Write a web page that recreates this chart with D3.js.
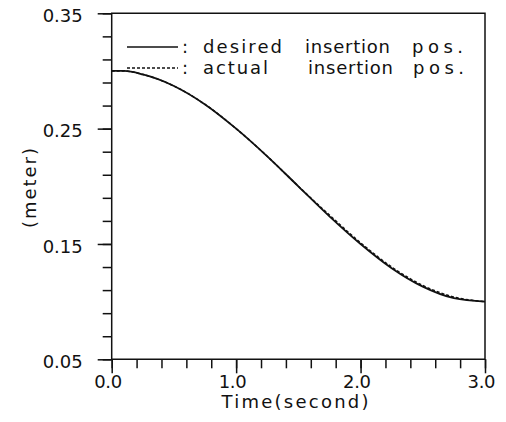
<!DOCTYPE html>
<html>
<head>
<meta charset="utf-8">
<script src="https://cdn.jsdelivr.net/npm/d3@7"></script>
<style>
  body { margin: 0; background: #fff; }
  svg { display: block; }
  text { font-family: "DejaVu Sans", Verdana, sans-serif; fill: #111; }
</style>
</head>
<body>
<svg id="chart" width="506" height="422"></svg>
<script>
// values
var timeValues  = [0, 0.1, 0.25, 0.5, 0.75, 1.0, 1.25, 1.5, 1.75, 2.0, 2.25, 2.5, 2.75, 3.0];
var desiredPos  = [0.300, 0.300, 0.297, 0.287, 0.271, 0.250, 0.226, 0.200, 0.174, 0.150, 0.129, 0.113, 0.103, 0.100];
var actualPos   = [0.300, 0.300, 0.297, 0.287, 0.271, 0.250, 0.226, 0.200, 0.175, 0.151, 0.130, 0.114, 0.104, 0.100];
var xTickLabels = ["0.0", "1.0", "2.0", "3.0"];
var yTickLabels = ["0.05", "0.15", "0.25", "0.35"];
var legendNames = ["desired", "actual"];

var svg = d3.select("#chart"),
    margin = {top: 13.3, right: 21, bottom: 62.7, left: 111.7},
    width = 506 - margin.left - margin.right,
    height = 422 - margin.top - margin.bottom,
    g = svg.append("g").attr("transform", "translate(" + margin.left + "," + margin.top + ")");

var x = d3.scaleLinear().domain([0, 3]).range([0, width]);
var y = d3.scaleLinear().domain([0.05, 0.35]).range([height, 0]);

var xMajor = xTickLabels.map(Number),
    yMajor = yTickLabels.map(Number),
    xMinor = d3.range(0, 3.001, 0.2),
    yMinor = d3.range(0.05, 0.351, 0.02);

function styleAxis(sel) {
  sel.select(".domain").remove();
  sel.selectAll("line").attr("stroke", "#111").attr("stroke-width", 1.5);
}

// minor ticks
g.append("g")
    .call(d3.axisLeft(y).tickValues(yMinor).tickSize(9).tickFormat(""))
    .call(styleAxis);
g.append("g")
    .attr("transform", "translate(0," + height + ")")
    .call(d3.axisBottom(x).tickValues(xMinor).tickSize(9).tickFormat(""))
    .call(styleAxis);

// major ticks + labels
var yAxis = g.append("g")
    .call(d3.axisLeft(y).tickValues(yMajor).tickSize(14).tickPadding(15)
      .tickFormat(function(d, i) { return yTickLabels[i]; }))
    .call(styleAxis);
yAxis.selectAll("text")
    .attr("font-size", 18)
    .attr("dy", "0.45em")
    .attr("textLength", 40)
    .attr("lengthAdjust", "spacing");

var xAxis = g.append("g")
    .attr("transform", "translate(0," + height + ")")
    .call(d3.axisBottom(x).tickValues(xMajor).tickSize(14)
      .tickFormat(function(d, i) { return xTickLabels[i]; }))
    .call(styleAxis);
xAxis.selectAll("text")
    .attr("font-size", 18)
    .attr("y", 29)
    .attr("dy", 0)
    .attr("x", -4)
    .attr("textLength", 28)
    .attr("lengthAdjust", "spacing");

// frame
g.append("path")
    .attr("d", "M" + x(0) + "," + y(0.05) + "V" + y(0.35) + "H" + x(3) + "V" + y(0.05) + "H" + x(0))
    .attr("fill", "none")
    .attr("stroke", "#111")
    .attr("stroke-width", 1.5);

// curves
var line = d3.line()
    .x(function(d) { return x(d[0]); })
    .y(function(d) { return y(d[1]); })
    .curve(d3.curveMonotoneX);

g.append("path")
    .datum(d3.zip(timeValues, desiredPos))
    .attr("d", line)
    .attr("fill", "none")
    .attr("stroke", "#111")
    .attr("stroke-width", 1.8);

g.append("path")
    .datum(d3.zip(timeValues, actualPos))
    .attr("d", line)
    .attr("fill", "none")
    .attr("stroke", "#111")
    .attr("stroke-width", 1.5)
    .attr("stroke-dasharray", "3,2");

// axis titles
svg.append("text")
    .attr("x", 295)
    .attr("y", 408)
    .attr("text-anchor", "middle")
    .attr("font-size", 18)
    .attr("textLength", 147)
    .attr("lengthAdjust", "spacing")
    .text("Time(second)");

svg.append("text")
    .attr("transform", "translate(36,188) rotate(-90)")
    .attr("text-anchor", "middle")
    .attr("font-size", 18)
    .attr("textLength", 80)
    .attr("lengthAdjust", "spacing")
    .text("(meter)");

// legend
var legend = svg.append("g");
legendNames.forEach(function(name, i) {
  var row = legend.append("g").attr("transform", "translate(0," + (i * 21) + ")");
  row.append("line")
      .attr("x1", 127).attr("x2", 178)
      .attr("y1", 47).attr("y2", 47)
      .attr("stroke", "#111")
      .attr("stroke-width", 1.5)
      .attr("stroke-dasharray", i ? "3,2" : null);
  row.append("text").attr("x", 182).attr("y", 53).attr("font-size", 18).text(":");
  row.append("text")
      .attr("x", 203).attr("y", 53).attr("font-size", 18)
      .attr("textLength", i ? 65 : 79).attr("lengthAdjust", "spacing")
      .text(name);
  row.append("text")
      .attr("x", i ? 308 : 305).attr("y", 53).attr("font-size", 18)
      .attr("textLength", 85).attr("lengthAdjust", "spacing")
      .text("insertion");
  row.append("text")
      .attr("x", i ? 413 : 412).attr("y", 53).attr("font-size", 18)
      .attr("textLength", 51).attr("lengthAdjust", "spacing")
      .text("pos.");
});
</script>
</body>
</html>
